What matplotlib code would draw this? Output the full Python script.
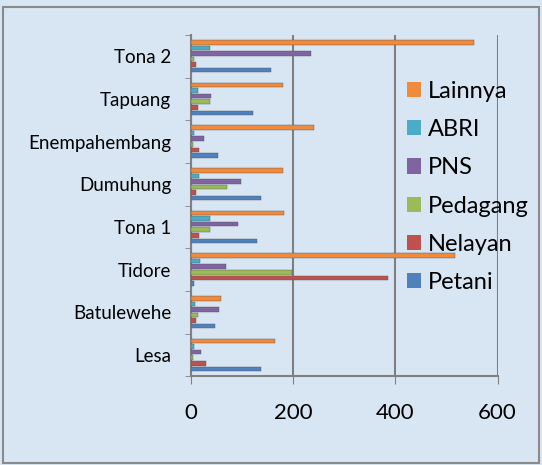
import numpy as np
import matplotlib
matplotlib.use("Agg")
import matplotlib.pyplot as plt
from matplotlib.patches import Patch, Rectangle

plt.rcParams['font.family'] = ['Lato', 'DejaVu Sans']

categories = ["Lesa", "Batulewehe", "Tidore", "Tona 1", "Dumuhung",
              "Enempahembang", "Tapuang", "Tona 2"]
# bottom-to-top order within each group
series = ["Petani", "Nelayan", "Pedagang", "PNS", "ABRI", "Lainnya"]
colors = ["#4F81BD", "#C0504D", "#9BBB59", "#8064A2", "#4BACC6", "#F08A3C"]

petani   = [137, 48, 6, 129, 137, 54, 122, 157]
nelayan  = [29, 10, 386, 17, 10, 17, 14, 11]
pedagang = [4, 14, 197, 38, 70, 4, 38, 6]
pns      = [20, 55, 68, 93, 99, 26, 40, 235]
abri     = [6, 8, 19, 37, 17, 6, 15, 37]
lainnya  = [165, 60, 516, 182, 180, 241, 180, 554]
values = [petani, nelayan, pedagang, pns, abri, lainnya]

fig = plt.figure(figsize=(5.42, 4.65), dpi=100)
fig.patch.set_facecolor("#d8e6f4")
fig.add_artist(Rectangle((0.006, 0.004), 0.988, 0.982, transform=fig.transFigure,
                         fill=False, edgecolor="#8a8a8a", linewidth=1.5))
ax = fig.add_axes([0.352, 0.191, 0.566, 0.734])
ax.set_facecolor("none")

y = np.arange(len(categories))
h = 0.131
for i, (name, vals, c) in enumerate(zip(series, values, colors)):
    off = (i - 2.5) * h
    ax.barh(y + off, vals, height=h * 0.82, color=c, edgecolor="#555555",
            linewidth=0.3, label=name, zorder=3)

ax.set_xlim(0, 600)
ax.set_ylim(-0.5, len(categories) - 0.5)
ax.set_xticks([0, 200, 400, 600])
ax.tick_params(axis='x', labelsize=16, length=6, color="#808080", pad=13)
ax.set_yticks(y)
ax.set_yticklabels(categories, fontsize=13.5)
ax.tick_params(axis='y', length=0, pad=14)
ax.set_yticks(np.arange(-0.5, len(categories)), minor=True)
ax.tick_params(axis='y', which='minor', length=4, color="#808080")
ax.xaxis.grid(True, color="#7f7f7f", linewidth=1.5, zorder=0)
for s in ["top", "right"]:
    ax.spines[s].set_visible(False)
for s in ["left", "bottom"]:
    ax.spines[s].set_color("#808080")
    ax.spines[s].set_linewidth(1.5)

handles = [Patch(facecolor=c, label=n) for n, c in zip(series, colors)]
handles = handles[::-1]
fig.legend(handles=handles, loc="upper left", bbox_to_anchor=(0.751, 0.826),
           frameon=False, fontsize=17, handlelength=0.61, handleheight=0.61,
           handletextpad=0.26, labelspacing=0.73, borderaxespad=0, borderpad=0)

fig.savefig("out.png", dpi=100, facecolor=fig.get_facecolor())
